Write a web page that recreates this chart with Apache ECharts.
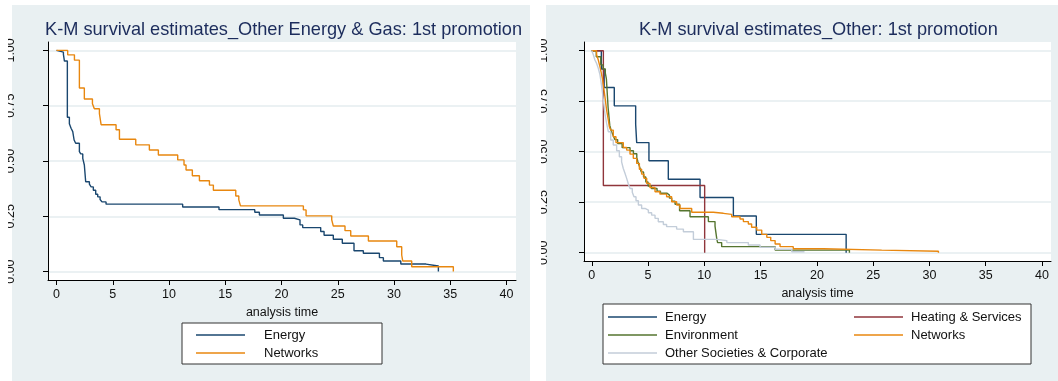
<!DOCTYPE html>
<html>
<head>
<meta charset="utf-8">
<title>K-M survival estimates</title>
<script src="https://cdn.jsdelivr.net/npm/echarts@6.0.0/dist/echarts.min.js"></script>
<style>
  html, body { margin: 0; padding: 0; background: #fff; }
  #page { position: relative; width: 1058px; height: 381px; overflow: hidden; }
  .panel { position: absolute; top: 5px; height: 376px; background: #e9f0f2; }
  .chart { position: absolute; top: 0; height: 381px; }
</style>
</head>
<body>
<div id="page">
  <div class="panel" style="left:12px;width:518px"></div>
  <div class="panel" style="left:546px;width:512px"></div>
  <div id="chartLeft" class="chart" style="left:0;width:530px"></div>
  <div id="chartRight" class="chart" style="left:530px;width:528px"></div>
</div>
<script>
// tick labels
const xTicks = [0, 5, 10, 15, 20, 25, 30, 35, 40]
const yTicks = [0, 0.25, 0.5, 0.75, 1]

// left panel: Other Energy & Gas
const leftEnergyT = [0, 0.16, 0.61, 0.70, 0.96, 1.14, 1.29, 1.44, 1.56, 1.70, 2.03, 2.15, 2.33, 2.47, 2.59, 2.92, 3.07, 3.27, 3.48, 3.66, 3.87, 4.04, 4.40, 11.21, 14.44, 17.62, 18.03, 20.16, 21.14, 21.64, 21.88, 23.48, 23.78, 24.60, 25.40, 26.44, 27.27, 28.70, 29.05, 30.60, 32.84, 33.94]
const leftEnergyS = [1, 0.992, 0.982, 0.952, 0.698, 0.668, 0.648, 0.633, 0.595, 0.580, 0.542, 0.532, 0.512, 0.482, 0.406, 0.395, 0.383, 0.368, 0.350, 0.338, 0.326, 0.315, 0.305, 0.292, 0.280, 0.268, 0.256, 0.241, 0.234, 0.211, 0.199, 0.181, 0.164, 0.146, 0.128, 0.094, 0.083, 0.063, 0.048, 0.034, 0.025, 0]
const leftNetworksT = [0, 0.99, 1.59, 2.03, 2.47, 3.19, 3.36, 3.81, 3.96, 5.29, 5.59, 7.04, 8.25, 9.05, 10.77, 11.33, 11.51, 12.07, 12.70, 13.59, 13.94, 15.93, 16.20, 16.35, 21.94, 22.18, 24.46, 24.60, 25.64, 26.15, 27.72, 30.24, 30.68, 30.77, 31.57, 35.27]
const leftNetworksS = [1, 0.980, 0.956, 0.830, 0.780, 0.759, 0.736, 0.714, 0.664, 0.641, 0.598, 0.573, 0.550, 0.527, 0.505, 0.482, 0.459, 0.433, 0.411, 0.391, 0.368, 0.342, 0.324, 0.297, 0.279, 0.252, 0.234, 0.206, 0.185, 0.161, 0.138, 0.112, 0.075, 0.048, 0.022, 0]

// right panel: Other
const rightEnergyT = [0, 0.85, 1.1, 2.0, 3.9, 3.99, 5.08, 6.8, 9.62, 12.58, 14.62, 22.6]
const rightEnergyS = [1, 0.909, 0.818, 0.727, 0.636, 0.545, 0.455, 0.364, 0.273, 0.182, 0.091, 0]
const rightHeatingT = [0, 1.03, 10.03]
const rightHeatingS = [1, 0.333, 0]
const rightEnvT = [0, 0.4, 0.8, 1.0, 1.2, 1.3, 1.45, 1.6, 1.75, 1.9, 2.05, 2.3, 2.7, 3.4, 3.7, 4.0, 4.1, 4.25, 4.4, 4.6, 4.8, 5.0, 5.3, 5.8, 6.1, 6.7, 6.9, 7.1, 7.4, 7.8, 8.73, 10.36, 10.95, 11.1, 11.18, 11.54, 16.29, 22.89]
const rightEnvS = [1, 0.97, 0.93, 0.91, 0.89, 0.86, 0.72, 0.63, 0.60, 0.58, 0.56, 0.54, 0.52, 0.505, 0.49, 0.47, 0.45, 0.425, 0.40, 0.375, 0.35, 0.33, 0.318, 0.305, 0.294, 0.285, 0.27, 0.255, 0.24, 0.208, 0.178, 0.154, 0.132, 0.071, 0.05, 0.03, 0.013, 0]
const rightNetworksT = [0, 0.43, 0.58, 0.73, 0.82, 0.94, 1.03, 1.17, 1.32, 1.47, 1.56, 1.68, 1.91, 2.15, 2.8, 3.1, 3.4, 3.69, 3.99, 4.23, 4.43, 4.64, 4.88, 5.17, 5.62, 6.06, 6.65, 7.1, 7.54, 7.84, 8.88, 10.8, 11.69, 12.43, 13.17, 13.47, 13.91, 14.2, 14.66, 15.1, 15.55, 15.9, 16.29, 16.73, 17.9, 20.58, 25.76, 30.8]
const rightNetworksS = [1, 0.98, 0.954, 0.92, 0.896, 0.863, 0.83, 0.772, 0.706, 0.657, 0.624, 0.607, 0.574, 0.545, 0.521, 0.508, 0.488, 0.467, 0.442, 0.413, 0.389, 0.368, 0.343, 0.323, 0.302, 0.29, 0.277, 0.252, 0.236, 0.219, 0.2, 0.195, 0.19, 0.178, 0.167, 0.154, 0.142, 0.126, 0.112, 0.091, 0.076, 0.06, 0.043, 0.03, 0.02, 0.013, 0.007, 0]
const rightOtherT = [0, 0.14, 0.28, 0.43, 0.58, 0.73, 0.82, 0.94, 1.03, 1.17, 1.32, 1.47, 1.68, 1.91, 2.21, 2.45, 2.65, 2.80, 2.95, 3.10, 3.25, 3.40, 3.60, 3.75, 3.93, 4.14, 4.43, 4.73, 5.03, 5.32, 5.62, 5.91, 6.36, 6.65, 7.54, 8.14, 9.03, 11.1, 12.0, 13.91, 14.95, 16.29, 17.77, 18.9]
const rightOtherS = [1, 0.98, 0.954, 0.937, 0.913, 0.88, 0.847, 0.797, 0.756, 0.69, 0.64, 0.599, 0.558, 0.533, 0.505, 0.475, 0.45, 0.417, 0.393, 0.368, 0.34, 0.318, 0.299, 0.277, 0.257, 0.236, 0.219, 0.211, 0.198, 0.186, 0.17, 0.153, 0.14, 0.129, 0.117, 0.104, 0.066, 0.06, 0.05, 0.038, 0.027, 0.017, 0.005, 0.005]

const font = 'Liberation Sans, Arial, sans-serif'
const textColor = '#111'
const titleColor = '#1c2c5c'

function points (t, s) {
  return t.map((x, i) => [x, s[i]])
}

function kmSeries (name, t, s, color) {
  return {
    name: name,
    type: 'line',
    step: 'end',
    symbol: 'none',
    data: points(t, s),
    lineStyle: { color: color, width: 1.4 },
    itemStyle: { color: color }
  }
}

function axes (xr, yr, yLabelMargin) {
  return {
    xAxis: {
      type: 'value',
      min: xr[0],
      max: xr[1],
      name: 'analysis time',
      nameLocation: 'middle',
      nameGap: 21,
      nameTextStyle: { fontSize: 12.5, color: textColor, fontFamily: font },
      axisLine: { onZero: false, lineStyle: { color: '#000', width: 1 } },
      axisTick: { show: true, length: 5, customValues: xTicks, lineStyle: { color: '#000' } },
      axisLabel: { customValues: xTicks, margin: 8, fontSize: 12.5, color: textColor, fontFamily: font },
      splitLine: { show: false }
    },
    yAxis: {
      type: 'value',
      min: yr[0],
      max: yr[1],
      axisLine: { show: true, onZero: false, lineStyle: { color: '#000', width: 1 } },
      axisTick: { show: true, length: 5, customValues: yTicks, lineStyle: { color: '#000' } },
      axisLabel: {
        customValues: yTicks,
        rotate: 90,
        margin: yLabelMargin,
        fontSize: 12.5,
        color: textColor,
        fontFamily: font,
        formatter: v => v.toFixed(2)
      },
      splitLine: { show: true, lineStyle: { color: '#e4ecef', width: 1.5 } }
    }
  }
}

// legend rows: a thin bar as the line sample, text pushed right
function legendBlock (names, left, top, textPad) {
  return {
    data: names,
    orient: 'vertical',
    left: left,
    top: top,
    padding: 0,
    itemGap: 4,
    icon: 'rect',
    itemWidth: 49,
    itemHeight: 1.5,
    selectedMode: false,
    textStyle: { fontSize: 13, lineHeight: 14, color: textColor, fontFamily: font, padding: [0, 0, 0, textPad] }
  }
}

// left chart
const leftChart = echarts.init(document.getElementById('chartLeft'))
leftChart.setOption(Object.assign({
  animation: false,
  title: {
    text: 'K-M survival estimates_Other Energy & Gas: 1st promotion',
    left: 45,
    top: 21,
    padding: 0,
    textStyle: { fontSize: 18.2, fontWeight: 'normal', color: titleColor, fontFamily: font }
  },
  grid: { left: 48, right: 14, top: 42, bottom: 101, show: true, backgroundColor: '#fff', borderWidth: 0 },
  legend: legendBlock(['Energy', 'Networks'], 196, 328, 14),
  graphic: [
    { type: 'rect', shape: { x: 182, y: 323, width: 200, height: 41 }, style: { fill: '#fff', stroke: '#333', lineWidth: 1 }, z: 1 },
    { type: 'rect', shape: { x: 0, y: 0, width: 8, height: 381 }, style: { fill: '#fff' }, z: 100 }
  ],
  series: [
    kmSeries('Energy', leftEnergyT, leftEnergyS, '#1a476f'),
    kmSeries('Networks', leftNetworksT, leftNetworksS, '#e8870f')
  ]
}, axes([-0.76, 40.84], [-0.038, 1.038], 31)))

// right chart
const rightChart = echarts.init(document.getElementById('chartRight'))
rightChart.setOption(Object.assign({
  animation: false,
  title: {
    text: 'K-M survival estimates_Other: 1st promotion',
    left: 109,
    top: 21,
    padding: 0,
    textStyle: { fontSize: 18.2, fontWeight: 'normal', color: titleColor, fontFamily: font }
  },
  grid: { left: 54, right: 7, top: 42, bottom: 120, show: true, backgroundColor: '#fff', borderWidth: 0 },
  legend: [
    legendBlock(['Energy', 'Environment', 'Other Societies & Corporate'], 78, 310, 3),
    legendBlock(['Heating & Services', 'Networks'], 324, 310, 3)
  ],
  graphic: [
    { type: 'rect', shape: { x: 73, y: 304, width: 428, height: 60 }, style: { fill: '#fff', stroke: '#333', lineWidth: 1 }, z: 1 },
    { type: 'rect', shape: { x: 0, y: 0, width: 11, height: 381 }, style: { fill: '#fff' }, z: 100 }
  ],
  series: [
    kmSeries('Energy', rightEnergyT, rightEnergyS, '#1a476f'),
    kmSeries('Heating & Services', rightHeatingT, rightHeatingS, '#90353b'),
    kmSeries('Environment', rightEnvT, rightEnvS, '#55752f'),
    kmSeries('Networks', rightNetworksT, rightNetworksS, '#e8870f'),
    kmSeries('Other Societies & Corporate', rightOtherT, rightOtherS, '#c3cdd9')
  ]
}, axes([-0.69, 40.8], [-0.041, 1.043], 34)))
</script>
</body>
</html>
